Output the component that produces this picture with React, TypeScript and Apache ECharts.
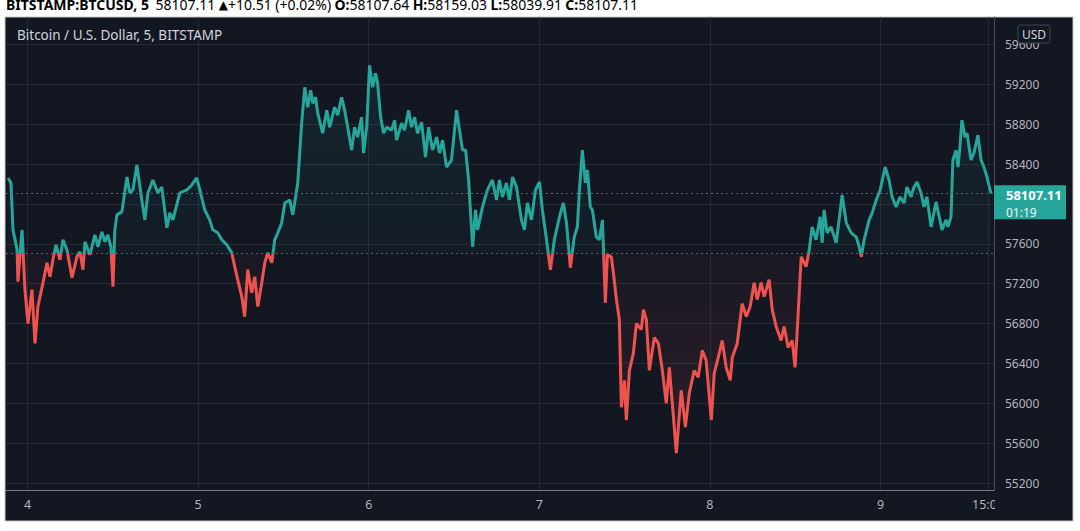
import React, { useEffect, useRef } from 'react';
import * as echarts from 'echarts';

// time in days (day-of-month with fraction), 5-min BTCUSD
const times = [
  3.886, 3.903, 3.915, 3.939, 3.944, 3.968, 3.985, 4.003, 4.026, 4.044, 4.061, 4.091, 4.114, 4.132, 4.149, 4.167,
  4.190, 4.208, 4.231, 4.261, 4.290, 4.307, 4.325, 4.337, 4.366, 4.395, 4.413, 4.436, 4.454, 4.471, 4.489, 4.501,
  4.512, 4.524, 4.553, 4.583, 4.600, 4.618, 4.641, 4.670, 4.688, 4.706, 4.735, 4.764, 4.787, 4.817, 4.834, 4.852,
  4.893, 4.934, 4.963, 4.992, 5.010, 5.039, 5.068, 5.086, 5.115, 5.139, 5.168, 5.197, 5.215, 5.232, 5.256, 5.273,
  5.291, 5.314, 5.332, 5.350, 5.373, 5.391, 5.408, 5.432, 5.449, 5.467, 5.490, 5.508, 5.537, 5.555, 5.584, 5.607,
  5.625, 5.642, 5.660, 5.672, 5.689, 5.701, 5.730, 5.754, 5.771, 5.800, 5.818, 5.841, 5.859, 5.877, 5.900, 5.917,
  5.935, 5.958, 5.970, 5.988, 6.005, 6.023, 6.040, 6.052, 6.070, 6.087, 6.105, 6.134, 6.152, 6.163, 6.193, 6.210,
  6.234, 6.251, 6.269, 6.286, 6.310, 6.333, 6.351, 6.374, 6.398, 6.415, 6.433, 6.456, 6.485, 6.515, 6.532, 6.550,
  6.568, 6.585, 6.609, 6.626, 6.638, 6.667, 6.696, 6.725, 6.749, 6.766, 6.784, 6.807, 6.825, 6.843, 6.866, 6.895,
  6.913, 6.930, 6.954, 6.977, 7.001, 7.018, 7.042, 7.065, 7.088, 7.118, 7.141, 7.159, 7.182, 7.205, 7.223, 7.235,
  7.252, 7.270, 7.282, 7.299, 7.311, 7.334, 7.352, 7.370, 7.387, 7.399, 7.422, 7.434, 7.452, 7.469, 7.481, 7.499,
  7.510, 7.528, 7.551, 7.569, 7.598, 7.610, 7.627, 7.645, 7.674, 7.698, 7.721, 7.744, 7.762, 7.791, 7.803, 7.832,
  7.856, 7.879, 7.908, 7.931, 7.955, 7.978, 8.008, 8.025, 8.049, 8.072, 8.095, 8.119, 8.131, 8.160, 8.189, 8.213,
  8.236, 8.259, 8.277, 8.300, 8.318, 8.347, 8.365, 8.388, 8.417, 8.435, 8.458, 8.482, 8.499, 8.511, 8.535, 8.564,
  8.582, 8.599, 8.622, 8.646, 8.658, 8.669, 8.687, 8.710, 8.740, 8.757, 8.775, 8.799, 8.828, 8.857, 8.875, 8.887,
  8.904, 8.933, 8.951, 8.975, 8.998, 9.027, 9.050, 9.068, 9.091, 9.114, 9.138, 9.155, 9.179, 9.196, 9.214, 9.237,
  9.255, 9.272, 9.296, 9.313, 9.325, 9.348, 9.360, 9.384, 9.395, 9.413, 9.424, 9.442, 9.454, 9.466, 9.477, 9.495,
  9.507, 9.530, 9.547, 9.571, 9.589, 9.606, 9.624, 9.647,
];

const prices = [
  58260, 58210, 57740, 57540, 57220, 57740, 57140, 56800, 57140, 56600, 56970, 57210, 57410, 57270, 57440, 57590,
  57440, 57640, 57540, 57260, 57470, 57520, 57340, 57620, 57490, 57690, 57570, 57720, 57620, 57690, 57570, 57170,
  57740, 57890, 57920, 58270, 58110, 58140, 58390, 58040, 57840, 58110, 58240, 58110, 58170, 57760, 57910, 57840,
  58110, 58140, 58190, 58260, 58140, 57940, 57840, 57740, 57710, 57640, 57590, 57510, 57370, 57240, 57070, 56870,
  57340, 57110, 57270, 56970, 57210, 57410, 57510, 57410, 57640, 57710, 57810, 58010, 58040, 57890, 58210, 58810,
  59170, 58970, 59140, 59010, 59070, 58910, 58710, 58940, 58770, 58970, 58890, 59070, 58940, 58770, 58540, 58770,
  58670, 58870, 58510, 58770, 59390, 59170, 59310, 59210, 58870, 58710, 58770, 58740, 58840, 58640, 58810, 58740,
  58940, 58770, 58870, 58710, 58820, 58470, 58770, 58540, 58670, 58510, 58640, 58370, 58440, 58940, 58740, 58540,
  58540, 58250, 57570, 57940, 57740, 57970, 58140, 58240, 58040, 58240, 58070, 58210, 58040, 58270, 58170, 57840,
  57740, 58010, 57840, 58140, 58220, 57940, 57640, 57340, 57640, 57870, 58010, 57810, 57360, 57670, 57770, 58140,
  58540, 58210, 58340, 57970, 57940, 57670, 57640, 57840, 57010, 57490, 57470, 57310, 57040, 56840, 55960, 56230,
  55830, 56330, 56500, 56800, 56740, 56940, 56840, 56330, 56660, 56600, 56330, 56000, 56360, 55760, 55500, 56130,
  55760, 56100, 56330, 56260, 56530, 56430, 55830, 56300, 56460, 56630, 56360, 56230, 56460, 56600, 57000, 56870,
  56970, 57210, 57040, 57210, 57070, 57240, 56940, 56770, 56630, 56770, 56560, 56630, 56360, 56710, 57470, 57370,
  57540, 57770, 57640, 57870, 57610, 57940, 57710, 57770, 57610, 57840, 58090, 57810, 57710, 57670, 57570, 57470,
  57640, 57840, 57910, 58040, 58140, 58370, 58240, 58070, 57970, 58070, 58010, 58170, 58070, 58170, 58220, 58110,
  57970, 58070, 57770, 57910, 58020, 57840, 57740, 57840, 57770, 57870, 58440, 58540, 58370, 58590, 58840, 58670,
  58710, 58440, 58510, 58690, 58440, 58370, 58270, 58107.11,
];

const baseline = 57500;
const lastPrice = 58107.11;
const countdown = '01:19';

const xTickValues = [4, 5, 6, 7, 8, 9, 9.625];
const xTickLabels = ['4', '5', '6', '7', '8', '9', '15:00'];
// price-axis grid levels; the 58000 label sits under the last-price tag in the reference
const yTickValues = [55200, 55600, 56000, 56400, 56800, 57200, 57600, 58000, 58400, 58800, 59200, 59600];
const yHiddenLabels = [58000];

const headerSymbol = 'BITSTAMP:BTCUSD, 5';
const headerLast = '58107.11';
const headerChange = '+10.51 (+0.02%)';
const headerOHLC = [
  ['O:', '58107.64'],
  ['H:', '58159.03'],
  ['L:', '58039.91'],
  ['C:', '58107.11'],
];
const chartTitle = 'Bitcoin / U.S. Dollar, 5, BITSTAMP';
const currency = 'USD';

const UP = '#26a69a';
const DOWN = '#ef5350';
const BG = '#131722';
const GRID = '#262a35';
const TEXT = '#b2b5be';
const FONT = '"Noto Sans", "DejaVu Sans", sans-serif';

export default function App() {
  const ref = useRef<HTMLDivElement>(null);

  useEffect(() => {
    document.body.style.margin = '0';
    if (!ref.current) return;
    const chart = echarts.init(ref.current, null, { renderer: 'svg' });

    const data = times.map((t, i) => [t, prices[i]]);
    const maxP = Math.max(...prices);
    const minP = Math.min(...prices);
    const f = (maxP - baseline) / (maxP - minP);

    const gridRight = 86;

    const xGridLines = xTickValues.map((v, i) => ({
      xAxis: v,
      label: {
        show: true,
        position: 'start',
        distance: 8,
        formatter: () => xTickLabels[i],
        color: TEXT,
        fontSize: 12.5,
        fontFamily: FONT,
      },
    }));
    const yGridLines = yTickValues.map((v) => ({ yAxis: v, label: { show: false } }));
    const yLabelLines = yTickValues
      .filter((v) => !yHiddenLabels.includes(v))
      .map((v) => ({
        yAxis: v,
        label: {
          show: true,
          position: 'end',
          distance: 11,
          formatter: () => String(v),
          color: TEXT,
          opacity: 1,
          fontSize: 12,
          fontFamily: FONT,
        },
      }));

    chart.setOption({
      animation: false,
      backgroundColor: '#ffffff',
      textStyle: { fontFamily: FONT },
      grid: { left: 6, right: gridRight, top: 17, bottom: 41, containLabel: false },
      xAxis: {
        type: 'value',
        min: 3.874,
        max: 9.665,
        axisLine: { show: true, lineStyle: { color: '#7a7d88', width: 1 } },
        axisTick: { show: false },
        axisLabel: { show: false },
        splitLine: { show: false },
      },
      yAxis: {
        type: 'value',
        position: 'right',
        min: 55130,
        max: 59875,
        z: 60,
        axisLine: { show: true, lineStyle: { color: '#4a4e59', width: 1 } },
        axisTick: { show: false },
        axisLabel: { show: false },
        splitLine: { show: false },
      },
      visualMap: {
        show: false,
        type: 'piecewise',
        dimension: 1,
        seriesIndex: 0,
        pieces: [
          { gte: 50000, lt: baseline, color: DOWN },
          { gte: baseline, lte: 65000, color: UP },
        ],
        outOfRange: { color: UP },
      },
      series: [
        {
          type: 'line',
          data,
          showSymbol: false,
          symbol: 'none',
          lineStyle: { width: 3 },
          areaStyle: {
            origin: baseline,
            color: new echarts.graphic.LinearGradient(0, 0, 0, 1, [
              { offset: 0, color: 'rgba(38,166,154,0.16)' },
              { offset: f, color: 'rgba(38,166,154,0.04)' },
              { offset: f, color: 'rgba(239,83,80,0.04)' },
              { offset: 1, color: 'rgba(239,83,80,0.16)' },
            ]),
          },
          z: 5,
          markLine: {
            silent: true,
            symbol: 'none',
            z: 6,
            label: { show: false },
            lineStyle: { type: [2, 3], color: '#5d616c', width: 1 },
            data: [{ yAxis: baseline }, { yAxis: lastPrice }],
          },
        },
        {
          type: 'line',
          data: [],
          clip: false,
          z: 1,
          markLine: {
            silent: true,
            symbol: 'none',
            z: 1,
            lineStyle: { type: 'solid', color: GRID, width: 1 },
            data: [...xGridLines, ...yGridLines],
          },
        },
        {
          type: 'line',
          data: [],
          clip: false,
          z: 60,
          markLine: {
            silent: true,
            symbol: 'none',
            z: 60,
            lineStyle: { type: 'solid', color: 'rgba(0,0,0,0)', width: 0 },
            data: yLabelLines,
          },
        },
      ],
    });

    const py = chart.convertToPixel({ yAxisIndex: 0 }, lastPrice) as number;
    const axisX = 1080 - gridRight;

    const rich: any = {
      b: { fontWeight: 'bold', color: '#131722', fontSize: 14, fontFamily: FONT },
      n: { color: '#131722', fontSize: 14, fontFamily: FONT },
      up: { color: UP, fontSize: 12, fontFamily: FONT },
      g: { color: UP, fontSize: 14, fontFamily: FONT },
    };
    const headerText =
      `{b|${headerSymbol}}  {n|${headerLast}} {up|▲}{n|${headerChange}} ` +
      headerOHLC.map(([k, v]) => `{b|${k}}{g|${v}}`).join(' ');

    chart.setOption({
      graphic: [
        {
          id: 'panel',
          type: 'rect',
          z: -10,
          silent: true,
          shape: { x: 5, y: 17, width: 1068, height: 504 },
          style: { fill: BG, stroke: '#c4c4c4', lineWidth: 1 },
        },
        {
          id: 'priceAxisCover',
          type: 'rect',
          z: 50,
          silent: true,
          shape: { x: axisX + 1, y: 18, width: 1072 - axisX - 1, height: 502 },
          style: { fill: BG },
        },
        {
          id: 'header',
          type: 'text',
          z: 100,
          x: 6,
          y: 11,
          style: { text: headerText, rich, verticalAlign: 'bottom', align: 'left' },
        },
        {
          id: 'title',
          type: 'text',
          z: 100,
          x: 17,
          y: 35,
          style: {
            text: chartTitle,
            fill: '#d1d4dc',
            fontSize: 13.5,
            fontFamily: FONT,
            verticalAlign: 'middle',
            align: 'left',
          },
        },
        {
          id: 'usdBox',
          type: 'rect',
          z: 100,
          shape: { x: 1018, y: 25, width: 32, height: 18, r: 2 },
          style: { fill: BG, stroke: '#434651', lineWidth: 1 },
        },
        {
          id: 'usdText',
          type: 'text',
          z: 101,
          x: 1034,
          y: 34,
          style: { text: currency, fill: '#d1d4dc', fontSize: 12, fontFamily: FONT, align: 'center', verticalAlign: 'middle' },
        },
        {
          id: 'lastBox',
          type: 'rect',
          z: 100,
          shape: { x: axisX, y: py - 8, width: 72, height: 34 },
          style: { fill: UP },
        },
        {
          id: 'lastPriceText',
          type: 'text',
          z: 101,
          x: axisX + 12,
          y: py - 5,
          style: {
            text: lastPrice.toFixed(2),
            fill: '#ffffff',
            fontSize: 13,
            fontWeight: 'bold',
            fontFamily: FONT,
            align: 'left',
            verticalAlign: 'top',
          },
        },
        {
          id: 'countdownText',
          type: 'text',
          z: 101,
          x: axisX + 12,
          y: py + 25,
          style: {
            text: countdown,
            fill: '#e8f5f3',
            fontSize: 12,
            fontFamily: FONT,
            align: 'left',
            verticalAlign: 'bottom',
          },
        },
      ],
    });

    return () => chart.dispose();
  }, []);

  return <div ref={ref} style={{ width: 1080, height: 531 }} />;
}
